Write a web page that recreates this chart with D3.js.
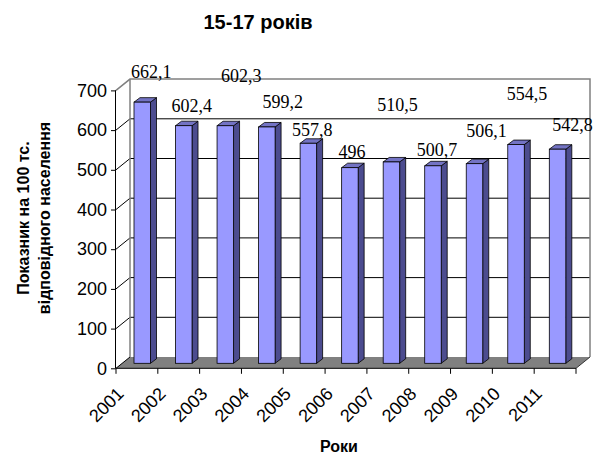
<!DOCTYPE html>
<html>
<head>
<meta charset="utf-8">
<script src="https://cdn.jsdelivr.net/npm/d3@7/dist/d3.min.js"></script>
<style>
  html, body { margin: 0; padding: 0; background: #fff; }
  svg { display: block; }
</style>
</head>
<body>
<svg id="chart" width="602" height="456"></svg>
<script>
// Показник на 100 тис. відповідного населення, вік 15-17 років
const years = ["2001","2002","2003","2004","2005","2006","2007","2008","2009","2010","2011"];
const values = [662.1, 602.4, 602.3, 599.2, 557.8, 496, 510.5, 500.7, 506.1, 554.5, 542.8];
const valueLabels = ["662,1","602,4","602,3","599,2","557,8","496","510,5","500,7","506,1","554,5","542,8"];
const yTicks = [0, 100, 200, 300, 400, 500, 600, 700];

const chartTitle = "15-17 років";
const yTitleLines = ["Показник на 100 тс.", "відповідного населення"];
const xTitle = "Роки";

// Label nudges (px) from each bar's top-front centre
const labelNudge = [[9,-24],[8,-14],[16,-44],[16,-19],[4,-7],[2,-10],[6,-51],[4,-10],[12,-27],[11,-45],[15,-18]];

const svg = d3.select("#chart");
svg.append("rect").attr("width", 602).attr("height", 456).attr("fill", "#fff");

// 3D box geometry: front plane and depth offset to the back wall
const front = { left: 116, right: 576 };
const depth = { dx: 14, dy: -11.3 };

const x = d3.scaleBand().domain(years).range([front.left, front.right]);
const y = d3.scaleLinear().domain([0, 700]).range([368.3, 90.4]);
// bars sit part-way into the depth, so their own plane is slightly shifted
const xBar = d3.scalePoint().domain(years).range([142.25, 557.55]);
const yBar = d3.scaleLinear().domain([0, 700]).range([363.3, 87.2]);
const barW = 16.5, barDx = 6, barDy = -4.5;

const yTop = y(700), yBase = y(0);
const g = svg.append("g");

// floor
g.append("path")
  .attr("d", d3.line()([
    [front.left, yBase], [front.right, yBase],
    [front.right + depth.dx, yBase + depth.dy], [front.left + depth.dx, yBase + depth.dy]
  ]) + "Z")
  .attr("fill", "#808080");

// back wall gridlines
g.selectAll(".grid").data(yTicks.filter(t => t > 0 && t < 700)).join("line")
  .attr("x1", front.left + depth.dx).attr("x2", front.right + depth.dx)
  .attr("y1", d => y(d) + depth.dy).attr("y2", d => y(d) + depth.dy)
  .attr("stroke", "#000").attr("stroke-width", 1);

// side wall gridlines (diagonals)
g.selectAll(".diag").data(yTicks.filter(t => t < 700)).join("line")
  .attr("x1", front.left).attr("y1", d => y(d))
  .attr("x2", front.left + depth.dx).attr("y2", d => y(d) + depth.dy)
  .attr("stroke", "#000").attr("stroke-width", 1);

// wall borders
g.append("path")
  .attr("d", d3.line()([
    [front.left, yTop], [front.left + depth.dx, yTop + depth.dy],
    [front.right + depth.dx, yTop + depth.dy], [front.right + depth.dx, yBase + depth.dy]
  ]))
  .attr("fill", "none").attr("stroke", "#808080").attr("stroke-width", 1.5);
g.append("line")
  .attr("x1", front.left + depth.dx).attr("x2", front.left + depth.dx)
  .attr("y1", yTop + depth.dy).attr("y2", yBase + depth.dy)
  .attr("stroke", "#808080").attr("stroke-width", 1.5);
g.append("line")
  .attr("x1", front.right).attr("y1", yBase)
  .attr("x2", front.right + depth.dx).attr("y2", yBase + depth.dy)
  .attr("stroke", "#333").attr("stroke-width", 1);

// bars: front, top and side faces
const bars = g.selectAll(".bar").data(years.map((yr, i) => ({ yr, v: values[i], i }))).join("g");
bars.append("path")
  .attr("d", d => {
    const L = xBar(d.yr) - barW / 2 + barW, T = yBar(d.v), B = yBar(0);
    return d3.line()([[L, T], [L + barDx, T + barDy], [L + barDx, B + barDy], [L, B]]) + "Z";
  })
  .attr("fill", "#4c4c8f").attr("stroke", "#000").attr("stroke-width", 0.8).attr("stroke-linejoin", "round");
bars.append("path")
  .attr("d", d => {
    const L = xBar(d.yr) - barW / 2, T = yBar(d.v);
    return d3.line()([[L, T], [L + barW, T], [L + barW + barDx, T + barDy], [L + barDx, T + barDy]]) + "Z";
  })
  .attr("fill", "#7373c4").attr("stroke", "#000").attr("stroke-width", 0.8).attr("stroke-linejoin", "round");
bars.append("rect")
  .attr("x", d => xBar(d.yr) - barW / 2)
  .attr("y", d => yBar(d.v))
  .attr("width", barW)
  .attr("height", d => yBar(0) - yBar(d.v))
  .attr("fill", "#9999ff").attr("stroke", "#000").attr("stroke-width", 0.8);

// value labels
g.selectAll(".vlabel").data(years.map((yr, i) => ({ yr, v: values[i], i }))).join("text")
  .attr("x", d => xBar(d.yr) + labelNudge[d.i][0])
  .attr("y", d => yBar(d.v) + labelNudge[d.i][1])
  .attr("text-anchor", "middle")
  .attr("font-family", "'Liberation Serif', 'Times New Roman', serif")
  .attr("font-size", 18)
  .attr("fill", "#000")
  .text(d => valueLabels[d.i]);

// y axis (front edge)
const yAxis = d3.axisLeft(y).tickValues(yTicks).tickSize(5).tickPadding(4).tickFormat(d3.format("d"));
const ya = svg.append("g").attr("transform", `translate(${front.left},0)`).call(yAxis);
ya.select(".domain").attr("stroke", "#000").attr("d", `M-0.5,${yTop}V${yBase}`);
ya.selectAll(".tick line").attr("stroke", "#000");
ya.selectAll(".tick text")
  .attr("font-family", "'Liberation Sans', Arial, sans-serif").attr("font-size", 18).attr("fill", "#000");

// x axis (front edge of floor)
const xa = svg.append("g").attr("transform", `translate(0,${yBase})`);
xa.append("line").attr("x1", front.left).attr("x2", front.right).attr("stroke", "#000");
const tickXs = years.map(yr => x(yr)).concat([front.right]);
xa.selectAll(".xt").data(tickXs).join("line")
  .attr("x1", d => d).attr("x2", d => d).attr("y1", 0).attr("y2", 5.5).attr("stroke", "#000");
xa.selectAll(".xl").data(years).join("text")
  .attr("transform", d => `translate(${x(d) + x.bandwidth() / 2 - 12},${395 - yBase}) rotate(-45)`)
  .attr("text-anchor", "end")
  .attr("font-family", "'Liberation Sans', Arial, sans-serif").attr("font-size", 18)
  .attr("fill", "#000")
  .text(d => d);

// titles
svg.append("text").attr("x", 258).attr("y", 29).attr("text-anchor", "middle")
  .attr("font-family", "'Liberation Sans', Arial, sans-serif").attr("font-size", 20).attr("font-weight", "bold")
  .text(chartTitle);
svg.append("text").attr("x", 339).attr("y", 452).attr("text-anchor", "middle")
  .attr("font-family", "'Liberation Sans', Arial, sans-serif").attr("font-size", 16).attr("font-weight", "bold")
  .text(xTitle);
const yt = svg.append("g").attr("transform", "rotate(-90)");
yt.selectAll("text").data(yTitleLines).join("text")
  .attr("x", -218).attr("y", (d, i) => i === 0 ? 29 : 50)
  .attr("text-anchor", "middle")
  .attr("font-family", "'Liberation Sans', Arial, sans-serif").attr("font-size", 16).attr("font-weight", "bold")
  .text(d => d);
</script>
</body>
</html>
